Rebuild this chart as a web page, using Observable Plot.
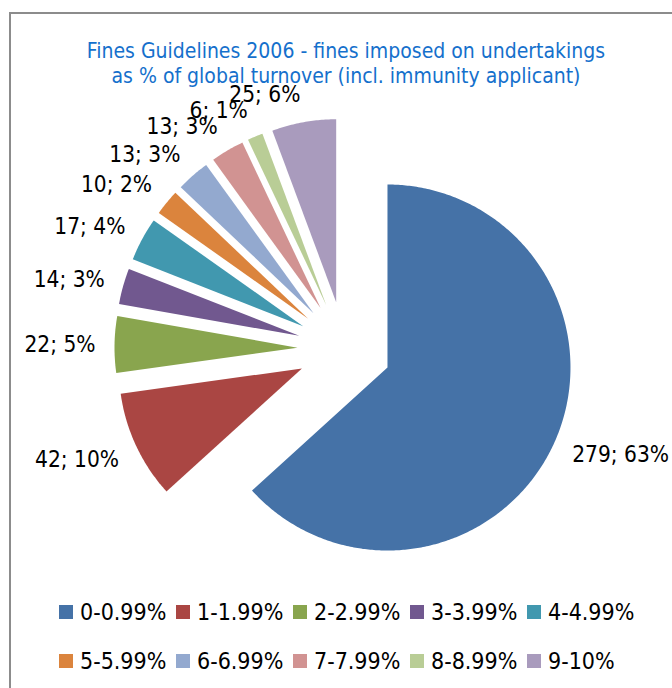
<!DOCTYPE html>
<html>
<head>
<meta charset="utf-8">
<script src="https://cdn.jsdelivr.net/npm/d3@7"></script>
<script src="https://cdn.jsdelivr.net/npm/@observablehq/plot@0.6"></script>
<style>
  html, body { margin: 0; padding: 0; background: #fff; }
  #wrap { position: relative; width: 672px; height: 688px; overflow: hidden;
          font-family: "DejaVu Sans Condensed", "DejaVu Sans", sans-serif; }
  #frame { position: absolute; left: 9px; top: 12px; width: 800px; height: 800px;
           border-left: 2px solid #8c8c8c; border-top: 2px solid #8c8c8c; }
  #chart { position: absolute; left: 0; top: 0; }
  #title { position: absolute; left: 0; width: 692px; top: 39px; text-align: center;
           color: #1570cc; font-size: 21px; line-height: 25px; }
  #legend { position: absolute; left: 59px; top: 587px; display: grid;
            grid-template-columns: repeat(5, 117px); grid-auto-rows: 49px; align-items: center; }
  .item { display: flex; align-items: center; font-size: 23px; color: #000; white-space: nowrap; }
  .sw { width: 14px; height: 14px; margin-right: 7px; flex: none; }
</style>
</head>
<body>
<div id="wrap">
  <div id="frame"></div>
  <div id="chart"></div>
  <div id="title">Fines Guidelines 2006 - fines imposed on undertakings<br>as % of global turnover (incl. immunity applicant)</div>
  <div id="legend"></div>
</div>
<script>
// ---- data ----
const categories = ["0-0.99%", "1-1.99%", "2-2.99%", "3-3.99%", "4-4.99%",
                    "5-5.99%", "6-6.99%", "7-7.99%", "8-8.99%", "9-10%"];
const counts = [279, 42, 22, 14, 17, 10, 13, 13, 6, 25];
const shares = [63, 10, 5, 3, 4, 2, 3, 3, 1, 6];
const colors = ["#4572A7", "#AA4643", "#89A54E", "#71588F", "#4198AF",
                "#DB843D", "#93A9CF", "#D19392", "#B9CD96", "#A99BBD"];

// ---- layout ----
const W = 672, H = 688;
const R = 183, cx = 344, cy = 348;
const explode = 47 / R;
const labelR = 249 / R;
const halfH = 10 / R;   // half the label box height, in radius units
const ff = "'DejaVu Sans Condensed', 'DejaVu Sans', sans-serif";

const arcs = d3.pie().sort(null).value(d => d)(counts);

const slicePts = arcs.flatMap((a, i) => {
  const cat = categories[i];
  const mid = (a.startAngle + a.endAngle) / 2;
  const ox = explode * Math.sin(mid), oy = explode * Math.cos(mid);
  const pts = [{cat, x: ox, y: oy}];
  const n = Math.max(4, Math.ceil((a.endAngle - a.startAngle) / 0.01));
  for (let k = 0; k <= n; k++) {
    const t = a.startAngle + (a.endAngle - a.startAngle) * k / n;
    pts.push({cat, x: ox + Math.sin(t), y: oy + Math.cos(t)});
  }
  pts.push({cat, x: ox, y: oy});
  return pts;
});

const labels = arcs.map((a, i) => {
  const mid = (a.startAngle + a.endAngle) / 2;
  return {
    x: labelR * Math.sin(mid),
    y: (labelR + halfH) * Math.cos(mid),
    text: `${counts[i]}; ${shares[i]}%`
  };
});

const chart = Plot.plot({
  width: W, height: H, margin: 0,
  x: {domain: [-cx / R, (W - cx) / R], range: [0, W], axis: null},
  y: {domain: [cy / R, -(H - cy) / R], range: [0, H], axis: null},
  color: {domain: categories, range: colors},
  style: {background: "transparent", overflow: "visible"},
  marks: [
    Plot.line(slicePts, {x: "x", y: "y", z: "cat", fill: "cat", stroke: "none", curve: "linear"}),
    Plot.text(labels.filter(d => d.x < 0), {x: "x", y: "y", text: "text", textAnchor: "end",
      dy: 1, fontSize: 22.5, fill: "#000", fontFamily: ff}),
    Plot.text(labels.filter(d => d.x >= 0), {x: "x", y: "y", text: "text", textAnchor: "start",
      dy: 1, fontSize: 22.5, fill: "#000", fontFamily: ff})
  ]
});
document.getElementById("chart").appendChild(chart);

const legend = document.getElementById("legend");
categories.forEach((c, i) => {
  const it = document.createElement("div");
  it.className = "item";
  const sw = document.createElement("span");
  sw.className = "sw";
  sw.style.background = colors[i];
  it.appendChild(sw);
  it.appendChild(document.createTextNode(c));
  legend.appendChild(it);
});
</script>
</body>
</html>
